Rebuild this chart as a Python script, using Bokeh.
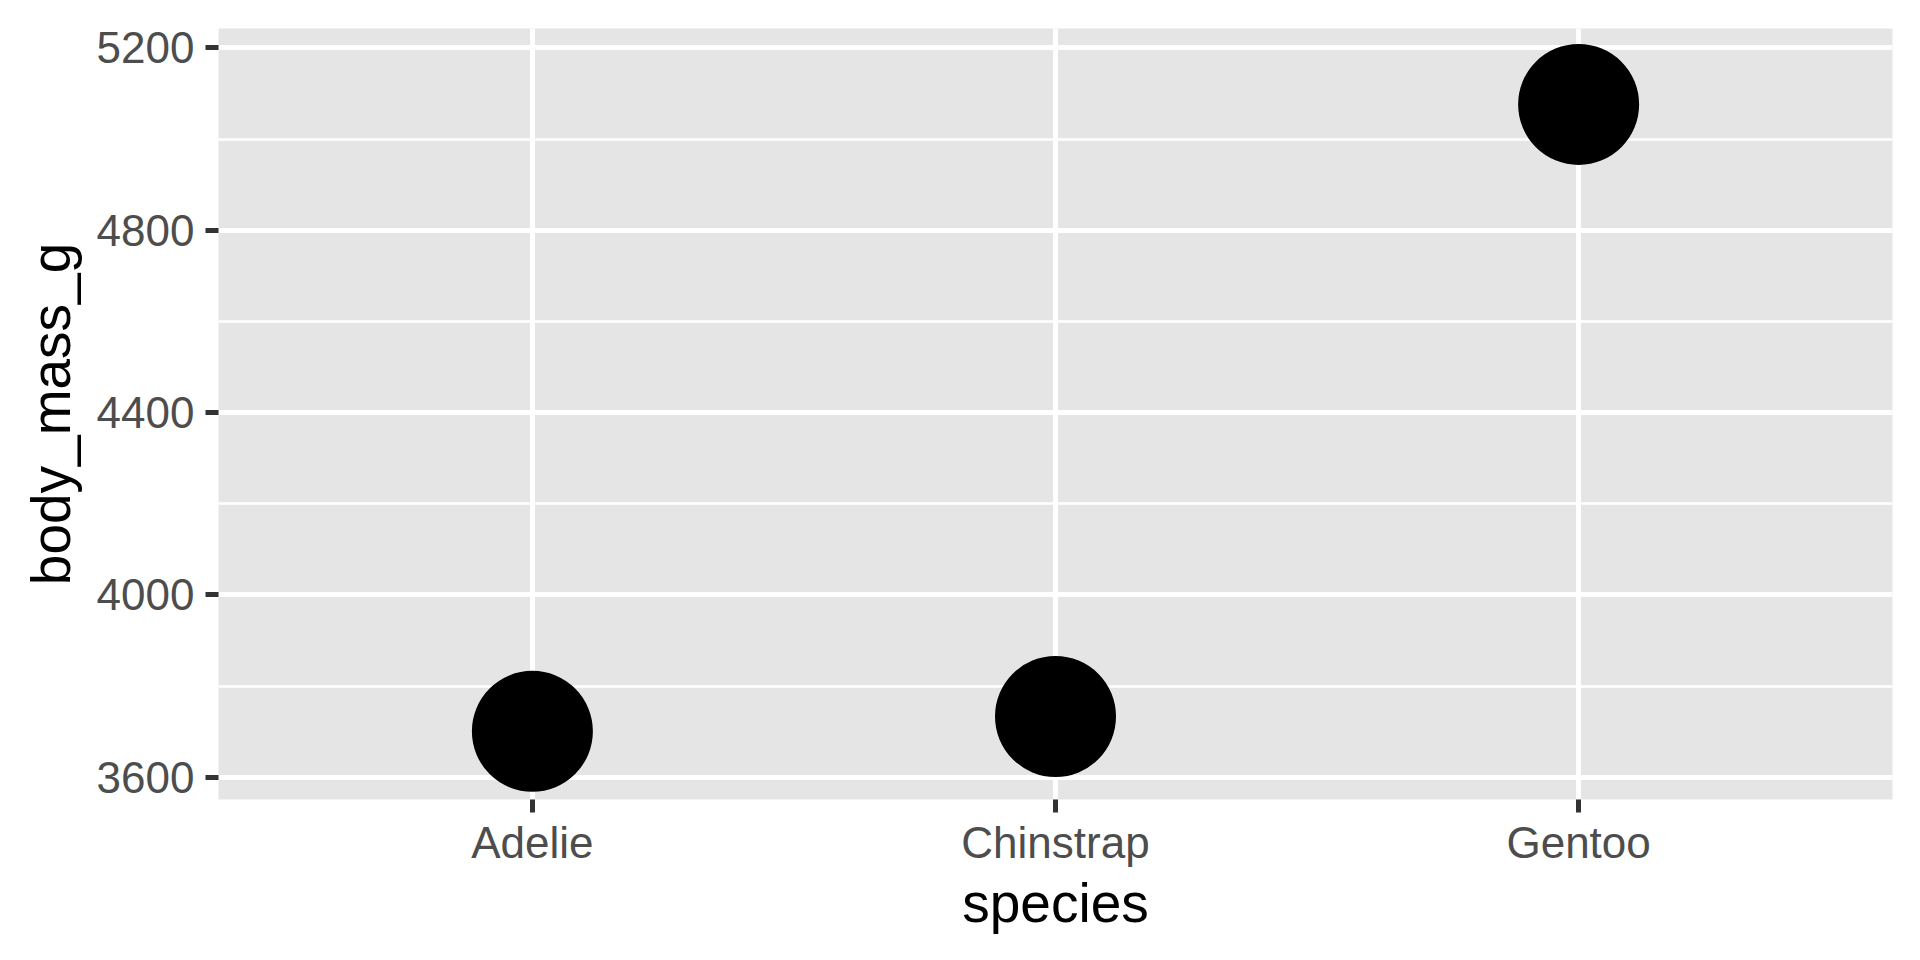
from bokeh.plotting import figure
from bokeh.models import Range1d, FactorRange, FixedTicker, ColumnDataSource
from bokeh.embed import file_html
from bokeh.resources import INLINE

# Data
species = ["Adelie", "Chinstrap", "Gentoo"]
body_mass_g = [3700.66, 3733.09, 5076.02]
y_ticks = [3600, 4000, 4400, 4800, 5200]
y_minor_ticks = [3800, 4200, 4600, 5000]

source = ColumnDataSource(data=dict(species=species, body_mass_g=body_mass_g))

FONT = "Liberation Sans"

p = figure(
    width=1904, height=944,
    x_range=FactorRange(factors=species, range_padding=0.1, range_padding_units="absolute"),
    y_range=Range1d(3551, 5242.7),
    output_backend="svg", toolbar_location=None,
    min_border_left=218, min_border_right=12, min_border_top=28, min_border_bottom=145,
)

p.background_fill_color = "#E5E5E5"
p.border_fill_color = "white"
p.outline_line_color = None

p.scatter(x="species", y="body_mass_g", source=source, size=121,
          fill_color="black", line_color=None)

# grids
p.xgrid.grid_line_color = "white"
p.xgrid.grid_line_width = 5
p.ygrid.grid_line_color = "white"
p.ygrid.grid_line_width = 5
p.ygrid.minor_grid_line_color = "white"
p.ygrid.minor_grid_line_width = 2.7

p.yaxis.ticker = FixedTicker(ticks=y_ticks, minor_ticks=y_minor_ticks)

for ax in (p.xaxis[0], p.yaxis[0]):
    ax.axis_line_color = None
    ax.major_tick_line_color = "#333333"
    ax.major_tick_line_width = 5
    ax.major_tick_out = 13
    ax.major_tick_in = 0
    ax.minor_tick_line_color = None
    ax.major_label_text_font = FONT
    ax.major_label_text_font_size = "44px"
    ax.major_label_text_color = "#4D4D4D"
    ax.axis_label_text_font = FONT
    ax.axis_label_text_font_size = "55px"
    ax.axis_label_text_font_style = "normal"
    ax.axis_label_text_color = "black"

p.xaxis.axis_label = "species"
p.yaxis.axis_label = "body_mass_g"
p.xaxis.major_label_standoff = 5
p.yaxis.major_label_standoff = 11
p.xaxis.axis_label_standoff = 2
p.yaxis.axis_label_standoff = 12

open("out.html", "w").write(file_html(p, INLINE))
